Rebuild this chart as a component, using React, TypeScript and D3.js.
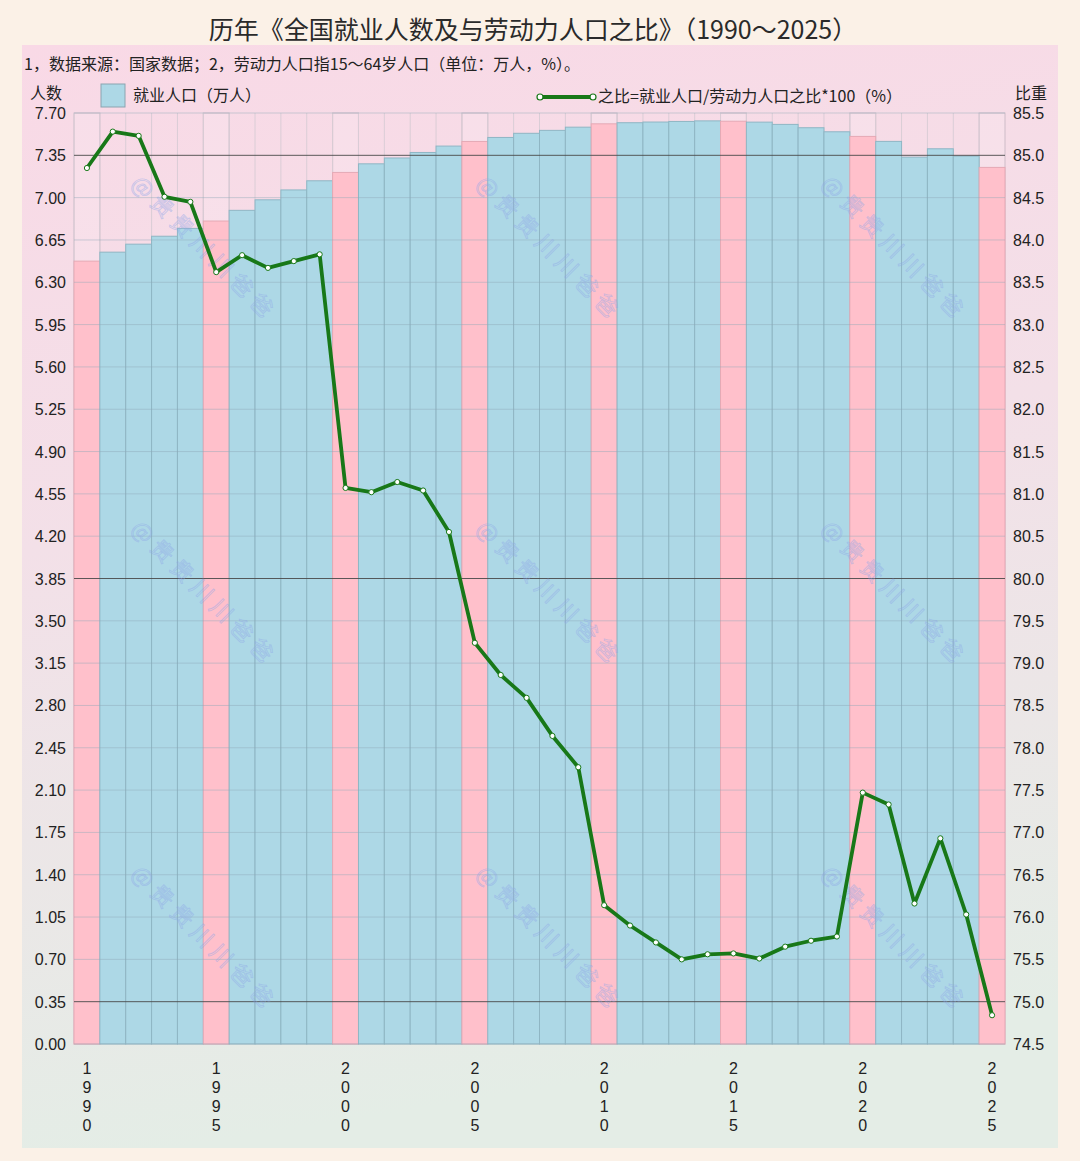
import * as d3 from 'd3';

const years = d3.range(1990, 2026);

// 就业人口（亿人）
const employed = [
  6.4749, 6.5491, 6.6152, 6.6808, 6.7455, 6.8065, 6.895, 6.982, 7.0637, 7.1394,
  7.2085, 7.2797, 7.328, 7.3736, 7.4264, 7.4647, 7.4978, 7.5321, 7.5564, 7.5828,
  7.6105, 7.6196, 7.6254, 7.6301, 7.6349, 7.632, 7.6245, 7.6058, 7.5782, 7.5447,
  7.5064, 7.4652, 7.3351, 7.4041, 7.3439, 7.25,
];

// 之比（%）
const ratio = [
  84.85, 85.28, 85.23, 84.51, 84.45, 83.62, 83.82, 83.67, 83.75, 83.83,
  81.07, 81.02, 81.14, 81.04, 80.55, 79.24, 78.86, 78.59, 78.14, 77.77,
  76.14, 75.9, 75.7, 75.5, 75.56, 75.57, 75.51, 75.65, 75.72, 75.77,
  77.47, 77.33, 76.16, 76.93, 76.03, 74.84,
];

const leftTicks = d3.range(0, 23).map((i) => +(i * 0.35).toFixed(2));
const rightTicks = d3.range(0, 23).map((i) => +(74.5 + i * 0.5).toFixed(1));
const labelYears = [1990, 1995, 2000, 2005, 2010, 2015, 2020, 2025];
const darkTicks = [0.35, 3.85, 7.35];

const title = '历年《全国就业人数及与劳动力人口之比》（1990～2025）';
const note = '1，数据来源：国家数据；2，劳动力人口指15～64岁人口（单位：万人，%）。';
const watermark = '@贵贵川川爸爸';

const W = 1080;
const H = 1161;
const plot = { left: 74, right: 1005, top: 113, bottom: 1044 };
const font = '"Liberation Sans", "Noto Sans CJK SC", sans-serif';
const cjk = '"Noto Sans CJK SC", sans-serif';
const green = '#187818';

export default function App() {
  const x = d3
    .scaleBand<number>()
    .domain(years)
    .range([plot.left, plot.right])
    .padding(0);
  const yL = d3.scaleLinear().domain([0, 7.7]).range([plot.bottom, plot.top]);
  const yR = d3.scaleLinear().domain([74.5, 85.5]).range([plot.bottom, plot.top]);
  const bw = x.bandwidth();
  const cx = (yr: number) => x(yr)! + bw / 2;

  const line = d3
    .line<number>()
    .x((_, i) => cx(years[i]))
    .y((d) => yR(d));

  const wmPos: [number, number][] = [];
  [130, 475, 820].forEach((wx) => [185, 530, 875].forEach((wy) => wmPos.push([wx, wy])));

  return (
    <svg
      width={W}
      height={H}
      style={{ position: 'absolute', left: 0, top: 0, display: 'block' }}
    >
      <defs>
        <linearGradient id="panel" x1="0" y1="0" x2="0.15" y2="1">
          <stop offset="0%" stopColor="#f9d9e6" />
          <stop offset="45%" stopColor="#f3e0e8" />
          <stop offset="100%" stopColor="#e4ede6" />
        </linearGradient>
      </defs>
      <rect x={0} y={0} width={W} height={H} fill="#fbf1e7" />
      <rect x={22} y={45} width={1036} height={1103} fill="url(#panel)" />

      <text x={533} y={39} textAnchor="middle" fontFamily={cjk} fontSize={25} fill="#2a2a2a">
        {title}
      </text>
      <text x={24} y={70} fontFamily={cjk} fontSize={16} fill="#222">
        {note}
      </text>

      {/* legend */}
      <text x={30} y={99} fontFamily={cjk} fontSize={16} fill="#222">人数</text>
      <rect x={101} y={84} width={24} height={23} fill="#add8e6" stroke="#8aa4b0" />
      <text x={133} y={101} fontFamily={cjk} fontSize={16} fill="#222">就业人口（万人）</text>
      <line x1={540} y1={97} x2={593} y2={97} stroke={green} strokeWidth={4} />
      <circle cx={540} cy={97} r={3} fill="#fff" stroke={green} strokeWidth={1.2} />
      <circle cx={593} cy={97} r={3} fill="#fff" stroke={green} strokeWidth={1.2} />
      <text x={598} y={102} fontFamily={cjk} fontSize={16} fill="#222">
        之比=就业人口/劳动力人口之比*100（%）
      </text>
      <text x={1015} y={99} fontFamily={cjk} fontSize={16} fill="#222">比重</text>

      {/* highlighted columns for every fifth year */}
      {labelYears.map((yr) => (
        <rect
          key={'col' + yr}
          x={x(yr)}
          y={plot.top}
          width={bw}
          height={plot.bottom - plot.top}
          fill="#ffffff"
          fillOpacity={0.12}
          stroke="#cdbcc8"
          strokeWidth={1}
        />
      ))}

      {/* vertical grid */}
      {years.map((yr) => (
        <line
          key={'vg' + yr}
          x1={x(yr)}
          x2={x(yr)}
          y1={plot.top}
          y2={plot.bottom}
          stroke="#dacdd6"
          strokeWidth={1}
        />
      ))}

      {/* bars */}
      {employed.map((v, i) => {
        const yr = years[i];
        const pink = yr % 5 === 0;
        return (
          <rect
            key={'b' + yr}
            x={x(yr)}
            y={yL(v)}
            width={bw}
            height={plot.bottom - yL(v)}
            fill={pink ? '#ffc0cb' : '#add8e6'}
            stroke={pink ? '#e5a9b5' : '#8fb6c4'}
            strokeWidth={1}
          />
        );
      })}

      {/* horizontal grid */}
      {leftTicks.map((t) => {
        const dark = darkTicks.includes(t);
        return (
          <line
            key={'hg' + t}
            x1={plot.left}
            x2={plot.right}
            y1={yL(t)}
            y2={yL(t)}
            stroke={dark ? '#4a4a4a' : '#8fa8b8'}
            strokeOpacity={dark ? 0.9 : 0.45}
            strokeWidth={1}
          />
        );
      })}

      {/* watermark */}
      {wmPos.map(([wx, wy], i) => (
        <text
          key={'wm' + i}
          x={wx}
          y={wy}
          transform={`rotate(45 ${wx} ${wy})`}
          fontFamily={cjk}
          fontSize={22}
          letterSpacing={6}
          fill="none"
          stroke="#8ea6e8"
          strokeOpacity={0.45}
          strokeWidth={0.9}
        >
          {watermark}
        </text>
      ))}

      {/* line */}
      <path d={line(ratio) ?? ''} fill="none" stroke={green} strokeWidth={3.8} strokeLinejoin="round" />
      {ratio.map((v, i) => (
        <circle
          key={'p' + i}
          cx={cx(years[i])}
          cy={yR(v)}
          r={2.6}
          fill="#fff"
          stroke={green}
          strokeWidth={1}
        />
      ))}

      {/* left axis labels */}
      {leftTicks.map((t) => (
        <text
          key={'lt' + t}
          x={66}
          y={yL(t) + 6}
          textAnchor="end"
          fontFamily={font}
          fontSize={16}
          fill="#222"
        >
          {t.toFixed(2)}
        </text>
      ))}

      {/* right axis labels */}
      {rightTicks.map((t) => (
        <text
          key={'rt' + t}
          x={1013}
          y={yR(t) + 6}
          fontFamily={font}
          fontSize={16}
          fill="#222"
        >
          {t.toFixed(1)}
        </text>
      ))}

      {/* year labels, vertical digits */}
      {labelYears.map((yr) => (
        <text
          key={'yl' + yr}
          x={cx(yr)}
          y={1074}
          textAnchor="middle"
          fontFamily={font}
          fontSize={16}
          fill="#222"
        >
          {String(yr)
            .split('')
            .map((c, k) => (
              <tspan key={k} x={cx(yr)} dy={k === 0 ? 0 : 19}>
                {c}
              </tspan>
            ))}
        </text>
      ))}
    </svg>
  );
}
